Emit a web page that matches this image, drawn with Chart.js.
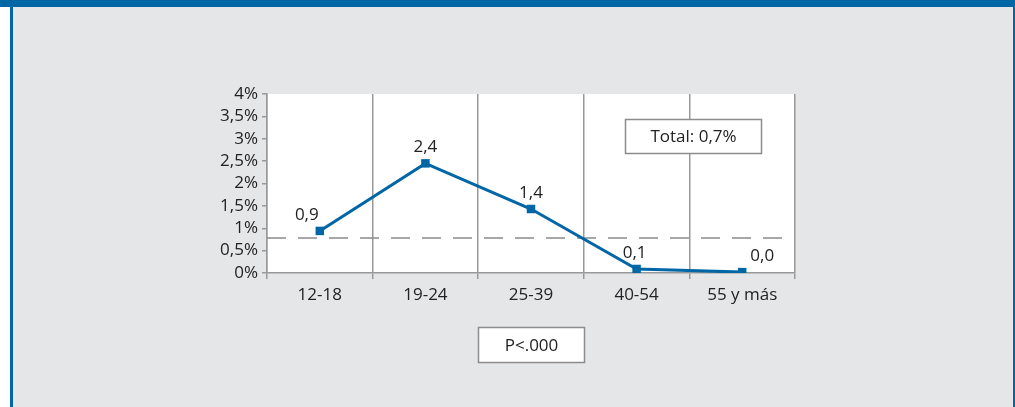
<!DOCTYPE html>
<html>
<head>
<meta charset="utf-8">
<script src="https://cdn.jsdelivr.net/npm/chart.js@4"></script>
<style>
  html, body { margin: 0; padding: 0; background: #ffffff; }
  #wrap { width: 1015px; height: 407px; }
</style>
</head>
<body>
<div id="wrap"><canvas id="chart1" width="1015" height="407"></canvas></div>
<script>
// categories and values (percent)
const ageGroups = ['12-18', '19-24', '25-39', '40-54', '55 y más'];
const rates = [0.94, 2.45, 1.43, 0.09, 0.02];
const rateLabels = ['0,9', '2,4', '1,4', '0,1', '0,0'];
const yTickLabels = ['0%', '0,5%', '1%', '1,5%', '2%', '2,5%', '3%', '3,5%', '4%'];
const totalRate = 0.78;
const totalText = 'Total: 0,7%';
const pText = 'P<.000';

const BLUE = '#0066a6';
const FONT = '"Open Sans", "Noto Sans", sans-serif';

// frame, grey panel and white plot area
const backgroundPlugin = {
    id: 'panel',
    beforeDraw(chart) {
        const ctx = chart.ctx;
        const a = chart.chartArea;
        ctx.save();
        ctx.fillStyle = '#ffffff';
        ctx.fillRect(0, 0, 1015, 407);
        ctx.fillStyle = '#e5e6e8';
        ctx.fillRect(13, 7, 1000, 400);
        ctx.fillStyle = BLUE;
        ctx.fillRect(0, 0, 1015, 7);
        ctx.fillRect(10, 0, 3, 407);
        ctx.fillRect(1013, 0, 2, 407);
        ctx.fillStyle = '#ffffff';
        ctx.fillRect(a.left, a.top, a.right - a.left, a.bottom - a.top);
        ctx.restore();
    }
};

// dashed total line, value labels and text boxes
const extrasPlugin = {
    id: 'extras',
    beforeDatasetsDraw(chart) {
        const ctx = chart.ctx;
        const y = chart.scales.y.getPixelForValue(totalRate);
        ctx.save();
        ctx.strokeStyle = '#8a8a8a';
        ctx.lineWidth = 1.5;
        ctx.setLineDash([19, 12]);
        ctx.beginPath();
        ctx.moveTo(chart.chartArea.left, y);
        ctx.lineTo(chart.chartArea.right - 12, y);
        ctx.stroke();
        ctx.restore();
    },
    afterDatasetsDraw(chart) {
        const ctx = chart.ctx;
        const meta = chart.getDatasetMeta(0);
        const shifts = [-13, 0, 0, -2, 20];
        ctx.save();
        ctx.font = '17px ' + FONT;
        ctx.fillStyle = '#222';
        ctx.textAlign = 'center';
        ctx.textBaseline = 'middle';
        meta.data.forEach((pt, i) => {
            ctx.fillText(rateLabels[i], pt.x + shifts[i], pt.y - 16);
        });

        function box(x, y, w, h, text) {
            ctx.fillStyle = '#ffffff';
            ctx.fillRect(x, y, w, h);
            ctx.strokeStyle = '#8c8c8c';
            ctx.lineWidth = 1.5;
            ctx.strokeRect(x, y, w, h);
            ctx.fillStyle = '#222';
            ctx.fillText(text, x + w / 2, y + h / 2 + 1);
        }
        box(625.5, 119.5, 136, 34, totalText);
        box(478.5, 327.5, 106, 35, pText);
        ctx.restore();
    }
};

new Chart(document.getElementById('chart1').getContext('2d'), {
    type: 'line',
    data: {
        labels: ageGroups,
        datasets: [{
            data: rates,
            borderColor: BLUE,
            backgroundColor: BLUE,
            borderWidth: 3,
            pointStyle: 'rect',
            pointRadius: 6,
            pointBorderWidth: 0,
            tension: 0,
        }],
    },
    options: {
        responsive: false,
        animation: false,
        layout: {
            padding: { left: 207, right: 220, top: 94, bottom: 94 }
        },
        plugins: {
            legend: { display: false },
            tooltip: { enabled: false },
        },
        scales: {
            x: {
                offset: true,
                grid: {
                    offset: true,
                    color: '#999',
                    lineWidth: 1.5,
                    tickLength: 6,
                },
                border: { color: '#999', width: 1.5 },
                ticks: {
                    color: '#222',
                    padding: 6,
                    font: { family: FONT, size: 17 },
                },
                afterFit(scale) { scale.height = 40; },
            },
            y: {
                min: 0,
                max: 4,
                grid: {
                    drawOnChartArea: false,
                    color: '#999',
                    lineWidth: 1.5,
                    tickLength: 5,
                },
                border: { color: '#999', width: 1.5 },
                ticks: {
                    stepSize: 0.5,
                    autoSkip: false,
                    color: '#222',
                    padding: 4,
                    font: { family: FONT, size: 17, lineHeight: 1 },
                    callback: (v, i) => yTickLabels[i],
                },
                afterFit(scale) { scale.width = 60; },
            },
        },
    },
    plugins: [backgroundPlugin, extrasPlugin],
});
</script>
</body>
</html>
